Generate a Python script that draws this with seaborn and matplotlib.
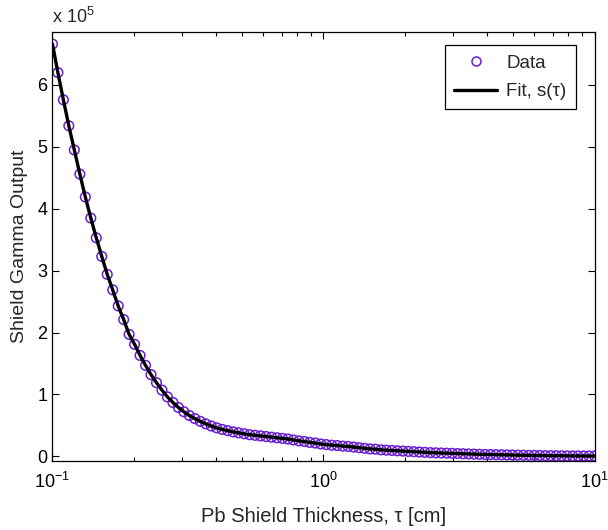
import numpy as np
import pandas as pd
import matplotlib
matplotlib.use("Agg")
import matplotlib.pyplot as plt
import seaborn as sns
from matplotlib.ticker import FixedLocator, FuncFormatter, LogLocator, NullFormatter
from matplotlib.lines import Line2D

# ---- data (thickness in cm, output in units of 1e5) ----
thickness = [
    0.1000, 0.1047, 0.1097, 0.1149, 0.1204, 0.1262, 0.1322, 0.1385, 0.1451, 0.1520,
    0.1592, 0.1668, 0.1748, 0.1831, 0.1918, 0.2009, 0.2105, 0.2205, 0.2310, 0.2420,
    0.2535, 0.2656, 0.2783, 0.2915, 0.3054, 0.3199, 0.3352, 0.3511, 0.3678, 0.3854,
    0.4037, 0.4229, 0.4431, 0.4642, 0.4863, 0.5094, 0.5337, 0.5591, 0.5857, 0.6136,
    0.6428, 0.6734, 0.7055, 0.7391, 0.7743, 0.8111, 0.8498, 0.8902, 0.9326, 0.9770,
    1.0235, 1.0723, 1.1233, 1.1768, 1.2328, 1.2915, 1.3530, 1.4175, 1.4850, 1.5557,
    1.6298, 1.7074, 1.7886, 1.8738, 1.9630, 2.0565, 2.1544, 2.2570, 2.3645, 2.4771,
    2.5950, 2.7186, 2.8480, 2.9836, 3.1257, 3.2745, 3.4305, 3.5938, 3.7649, 3.9442,
    4.1320, 4.3288, 4.5349, 4.7508, 4.9770, 5.2140, 5.4623, 5.7224, 5.9948, 6.2803,
    6.5793, 6.8926, 7.2208, 7.5646, 7.9248, 8.3022, 8.6975, 9.1116, 9.5455, 10.0000,
]
output_e5 = [
    6.66, 6.20, 5.76, 5.34, 4.95, 4.56, 4.19, 3.85, 3.53, 3.23,
    2.94, 2.69, 2.43, 2.21, 1.97, 1.81, 1.63, 1.47, 1.32, 1.19,
    1.07, 0.96, 0.87, 0.79, 0.72, 0.66, 0.61, 0.565, 0.525, 0.49,
    0.46, 0.435, 0.415, 0.395, 0.38, 0.365, 0.35, 0.34, 0.33, 0.32,
    0.31, 0.30, 0.29, 0.28, 0.265, 0.25, 0.24, 0.225, 0.215, 0.20,
    0.19, 0.18, 0.175, 0.165, 0.16, 0.15, 0.14, 0.13, 0.12, 0.115,
    0.105, 0.10, 0.095, 0.09, 0.085, 0.08, 0.075, 0.07, 0.065, 0.06,
    0.057, 0.054, 0.051, 0.048, 0.045, 0.042, 0.039, 0.036, 0.033, 0.031,
    0.029, 0.027, 0.025, 0.023, 0.021, 0.019, 0.018, 0.016, 0.015, 0.014,
    0.012, 0.011, 0.010, 0.009, 0.008, 0.007, 0.0065, 0.006, 0.0055, 0.005,
]
fit_e5 = output_e5

x_ticks = [0.1, 1, 10]
x_tick_labels = [r"$10^{-1}$", r"$10^{0}$", r"$10^{1}$"]
y_ticks = [0, 1, 2, 3, 4, 5, 6]

df = pd.DataFrame({"tau": thickness,
                   "out": np.array(output_e5) * 1e5,
                   "fit": np.array(fit_e5) * 1e5})

sns.set_style("ticks")
plt.rcParams["font.family"] = ["Liberation Sans", "DejaVu Sans"]
plt.rcParams["mathtext.fontset"] = "custom"
plt.rcParams["mathtext.rm"] = "Liberation Sans"
plt.rcParams["mathtext.it"] = "Liberation Sans:italic"
plt.rcParams["mathtext.bf"] = "Liberation Sans:bold"

purple = "#6a1ed2"

fig = plt.figure(figsize=(6.08, 5.30), dpi=100)
ax = fig.add_axes([0.0863, 0.1302, 0.8915, 0.8088])

sns.scatterplot(data=df, x="tau", y="out", ax=ax, marker="o", s=48,
                facecolor="none", edgecolor=purple, linewidth=1.1,
                zorder=2, legend=False)
sns.lineplot(data=df, x="tau", y="fit", ax=ax, color="black",
             linewidth=2.4, zorder=3, legend=False)

ax.set_xscale("log")
ax.set_xlim(0.1, 10)
ax.set_ylim(-0.075e5, 6.85e5)

ax.xaxis.set_major_locator(FixedLocator(x_ticks))
ax.set_xticklabels(x_tick_labels)
ax.xaxis.set_minor_locator(LogLocator(base=10, subs=np.arange(2, 10)))
ax.xaxis.set_minor_formatter(NullFormatter())
ax.yaxis.set_major_locator(FixedLocator([v * 1e5 for v in y_ticks]))
ax.yaxis.set_major_formatter(FuncFormatter(lambda v, p: f"{v/1e5:g}"))

ax.tick_params(which="both", direction="in", top=True, right=True,
               labelsize=13, width=0.8, colors="black")
ax.tick_params(which="major", length=5)
ax.tick_params(which="minor", length=3)
ax.tick_params(axis="x", pad=8)
for s in ax.spines.values():
    s.set_linewidth(0.9)
    s.set_color("black")

ax.set_xlabel("Pb Shield Thickness, τ [cm]", fontsize=14.5, labelpad=11)
ax.set_ylabel("Shield Gamma Output", fontsize=14, labelpad=7)
ax.text(0.0, 1.012, r"x 10$^{5}$", transform=ax.transAxes,
        fontsize=13, ha="left", va="bottom")

handles = [
    Line2D([], [], marker="o", linestyle="none", markerfacecolor="none",
           markeredgecolor=purple, markeredgewidth=1.1, markersize=6.5),
    Line2D([], [], color="black", linewidth=2.4),
]
leg = ax.legend(handles, ["Data", "Fit, s(τ)"], loc="upper right",
                bbox_to_anchor=(0.966, 0.97), borderaxespad=0.0,
                fontsize=13.5, frameon=True,
                fancybox=False, edgecolor="black", framealpha=1,
                handlelength=2.3, borderpad=0.5, labelspacing=0.6,
                handletextpad=0.5)
leg.get_frame().set_linewidth(0.9)

fig.savefig("out.png", dpi=100)
